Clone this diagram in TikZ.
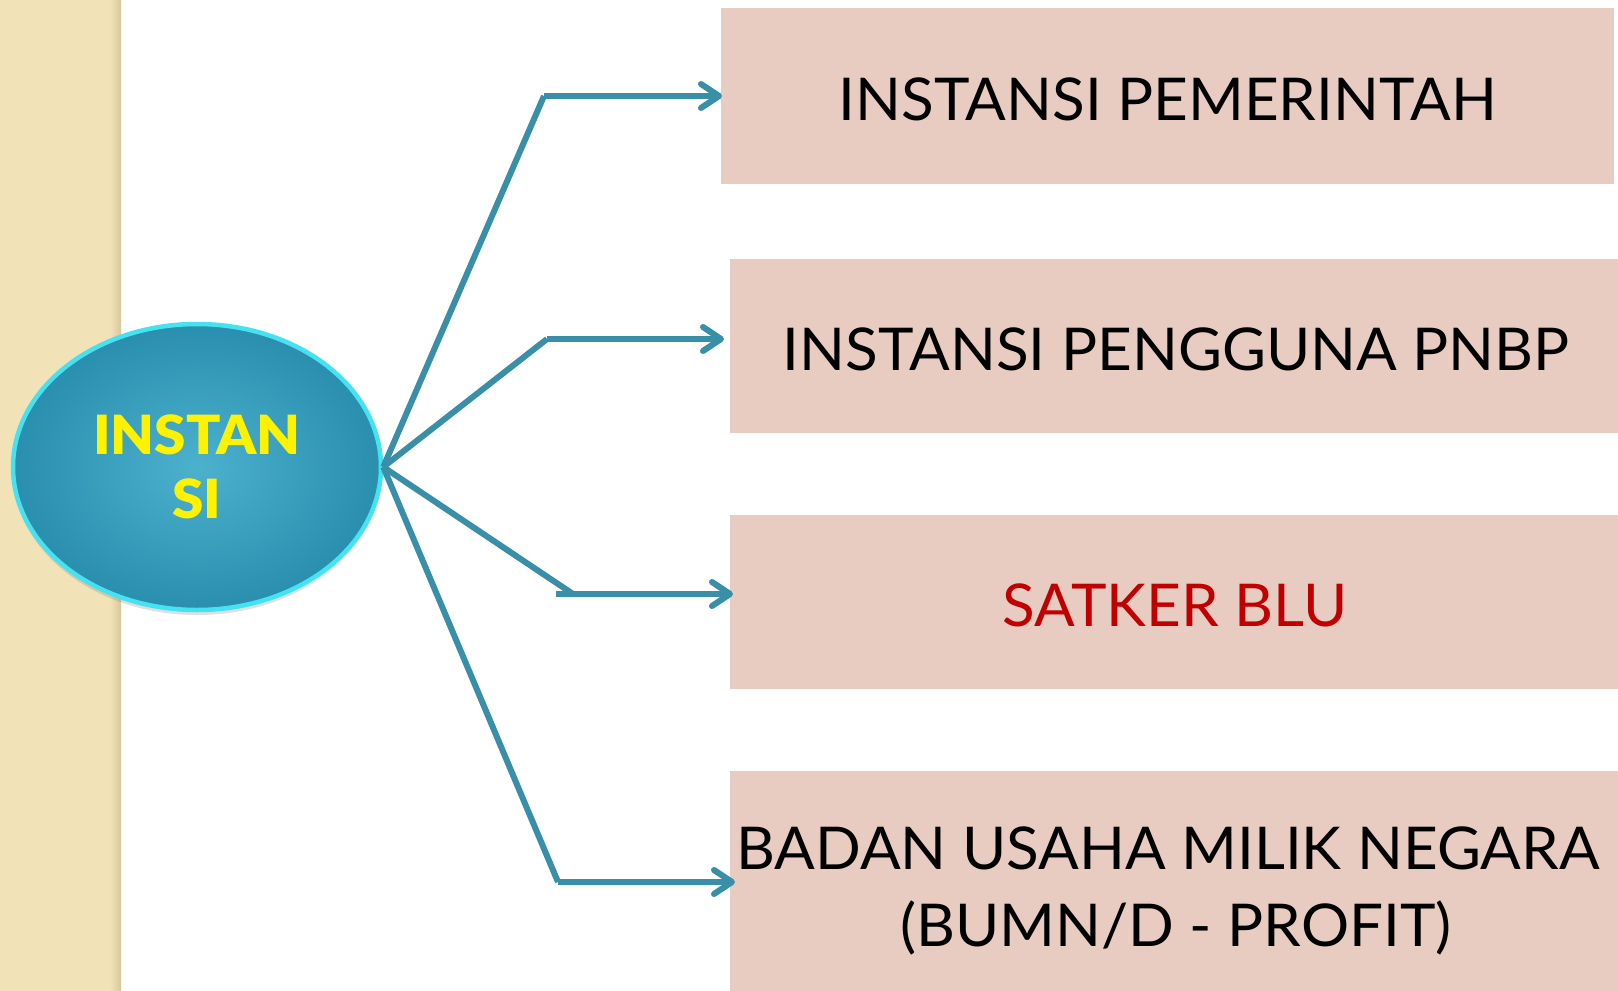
\documentclass[tikz,border=0pt]{standalone}
\usepackage{fontspec}
\setmainfont{Lato}[FakeStretch=1.02]
\newfontfamily\hubfont{Lato Black}[FakeStretch=1.05]
\usetikzlibrary{arrows.meta,shapes.geometric,shadows}

\definecolor{stripfill}{HTML}{F2E2B8}
\definecolor{stripedge}{HTML}{D8C79C}
\definecolor{boxfill}{HTML}{E8CBC1}
\definecolor{linkc}{HTML}{3A8FA8}
\definecolor{hubin}{HTML}{4BB1CD}
\definecolor{hubout}{HTML}{2A8FAF}
\definecolor{hubrim}{HTML}{45E3F2}
\definecolor{bluRed}{HTML}{C00000}

\tikzset{
  itembox/.style={fill=boxfill, draw=none, anchor=north west, inner sep=0pt},
  itemtext/.style={anchor=base, inner sep=0pt, font=\fontsize{59}{77}\selectfont},
  link/.style={draw=linkc, line width=6pt, line cap=butt, line join=round},
  linkarrow/.style={link, -{Straight Barb[round,length=18pt,width=24pt]}},
}

\begin{document}
\begin{tikzpicture}[x=1pt,y=-1pt]
\useasboundingbox (0,0) rectangle (1618,991);
\fill[white] (0,0) rectangle (1618,991);

% textured side strip
\fill[stripfill] (0,0) rectangle (121,991);
\shade[left color=stripfill, right color=stripedge] (110,0) rectangle (121,991);

% the four target boxes
\node[itembox, minimum width=893pt, minimum height=176pt] (b1) at (721,8) {};
\node[itembox, minimum width=888pt, minimum height=174pt] (b2) at (730,259) {};
\node[itembox, minimum width=888pt, minimum height=174pt] (b3) at (730,515) {};
\node[itembox, minimum width=888pt, minimum height=222pt] (b4) at (730,771) {};

% their labels, placed on the baseline
\node[itemtext] (l1) at (1168,120) {INSTANSI PEMERINTAH};
\node[itemtext] (l2) at (1176,370) {INSTANSI PENGGUNA PNBP};
\node[itemtext, text=bluRed] (l3) at (1175,626) {SATKER BLU};
\node[itemtext] (l4a) at (1168,869) {BADAN USAHA MILIK NEGARA};
\node[itemtext] (l4b) at (1176,946) {(BUMN/D - PROFIT)};

% central hub
\node[ellipse, minimum width=368pt, minimum height=286pt, inner sep=0pt,
  inner color=hubin, outer color=hubout, draw=hubrim, line width=4.5pt,
  drop shadow={opacity=0.25, shadow xshift=0pt, shadow yshift=-5pt},
  text=yellow, align=center, font=\hubfont\fontsize{54}{64}\selectfont]
  (hub) at (197,467) {INSTAN\\SI};

% bend points and arrow tips
\coordinate (k1) at (544,96);  \coordinate (t1) at (722,96);
\coordinate (k2) at (547,339); \coordinate (t2) at (724,339);
\coordinate (k3) at (573,594); \coordinate (s3) at (556,594); \coordinate (t3) at (733,594);
\coordinate (k4) at (558,882); \coordinate (t4) at (735,882);

\draw[link] (hub.east) -- (k1);
\draw[linkarrow] (k1) -- (t1);
\draw[link] (hub.east) -- (k2);
\draw[linkarrow] (k2) -- (t2);
\draw[link] (hub.east) -- (k3);
\draw[linkarrow] (s3) -- (t3);
\draw[link] (hub.east) -- (k4);
\draw[linkarrow] (k4) -- (t4);
\end{tikzpicture}
\end{document}
